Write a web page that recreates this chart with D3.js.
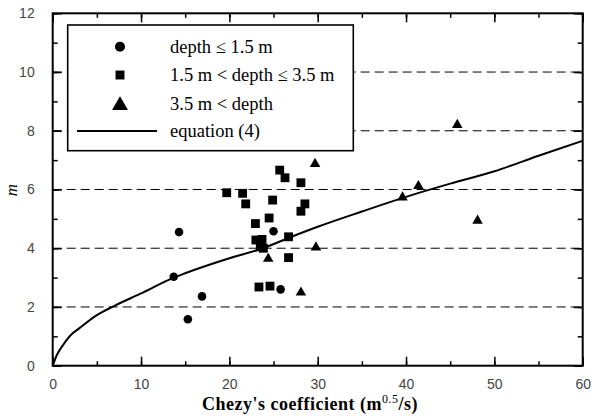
<!DOCTYPE html>
<html>
<head>
<meta charset="utf-8">
<script src="https://cdn.jsdelivr.net/npm/d3@7"></script>
<style>
  body { margin: 0; background: #fff; }
  svg { display: block; }
</style>
</head>
<body>
<div id="chart"></div>
<script>
// Dữ liệu: [Chezy C, m]
const shallowPoints = [[14.3, 4.55], [13.7, 3.03], [16.9, 2.36], [15.3, 1.58], [25.0, 4.58], [25.8, 2.6]];
const midPoints = [
  [25.7, 6.66], [26.3, 6.40], [28.1, 6.23], [19.7, 5.89], [21.5, 5.87], [21.85, 5.51],
  [24.9, 5.64], [28.55, 5.51], [28.1, 5.26], [24.5, 5.03], [22.95, 4.84], [26.7, 4.39],
  [23.0, 4.28], [23.7, 4.30], [23.5, 4.05], [23.85, 4.0], [26.7, 3.68], [23.35, 2.68], [24.6, 2.71]
];
const deepPoints = [[29.7, 6.87], [29.8, 4.03], [24.4, 3.64], [28.1, 2.49], [45.8, 8.2], [41.4, 6.12], [39.6, 5.73], [48.1, 4.94]];
// đường equation (4), các điểm
const equationC = [0, 0.5, 1, 2, 3, 5, 7, 10, 13.7, 15, 20, 23.8, 26.7, 30, 35, 40, 45, 50, 55, 60];
const equationM = [0, 0.38, 0.63, 1.03, 1.27, 1.72, 2.04, 2.46, 3.0, 3.15, 3.66, 4.0, 4.35, 4.73, 5.25, 5.75, 6.2, 6.62, 7.15, 7.66];
const xTicks = [0, 10, 20, 30, 40, 50, 60];
const yTicks = [0, 2, 4, 6, 8, 10, 12];
const gridLines = [2, 4, 6, 8, 10];
const legendLabels = ["depth \u2264 1.5 m", "1.5 m < depth \u2264 3.5 m", "3.5 m < depth", "equation (4)"];

const W = 591, H = 416;
const margin = {top: 13.3, right: 8.3, bottom: 50.3, left: 52.7};
const width = W - margin.left - margin.right;
const height = H - margin.top - margin.bottom;

const svg = d3.select("#chart").append("svg")
  .attr("width", W).attr("height", H);
const g = svg.append("g").attr("transform", `translate(${margin.left},${margin.top})`);

const x = d3.scaleLinear().domain([0, 60]).range([0, width]);
const y = d3.scaleLinear().domain([0, 12]).range([height, 0]);

// lưới ngang nét đứt
g.selectAll(".grid").data(gridLines).join("line")
  .attr("x1", 0).attr("x2", width)
  .attr("y1", d => y(d)).attr("y2", d => y(d))
  .attr("stroke", "#000").attr("stroke-width", 1)
  .attr("stroke-dasharray", "9,5");

// ticks hướng vào trong, 4 cạnh
const tickFont = "Liberation Sans, Arial, sans-serif";
function styleAxis(sel) {
  sel.select(".domain").remove();
  sel.selectAll(".tick line").attr("stroke", "#000").attr("stroke-width", 1.5);
  sel.selectAll(".tick text").style("font-family", tickFont).style("font-size", "14px").attr("fill", "#444");
}
const xMinor = d3.range(0, 61, 5);
const yMinor = d3.range(0, 13, 1);

g.append("g").attr("transform", `translate(0,${height})`)
  .call(d3.axisBottom(x).tickValues(xMinor).tickSize(-4.5).tickFormat(""))
  .call(styleAxis);
g.append("g").attr("transform", `translate(0,${height})`)
  .call(d3.axisBottom(x).tickValues(xTicks).tickSize(-9).tickPadding(13).tickFormat(d3.format("d")))
  .call(styleAxis);
g.append("g")
  .call(d3.axisTop(x).tickValues(xMinor).tickSize(-4.5).tickFormat(""))
  .call(styleAxis);
g.append("g")
  .call(d3.axisTop(x).tickValues(xTicks).tickSize(-9).tickFormat(""))
  .call(styleAxis);
g.append("g")
  .call(d3.axisLeft(y).tickValues(yMinor).tickSize(-5).tickFormat(""))
  .call(styleAxis);
g.append("g")
  .call(d3.axisLeft(y).tickValues(yTicks).tickSize(-9).tickPadding(18).tickFormat(d3.format("d")))
  .call(styleAxis);
g.append("g").attr("transform", `translate(${width},0)`)
  .call(d3.axisRight(y).tickValues(yMinor).tickSize(-5).tickFormat(""))
  .call(styleAxis);
g.append("g").attr("transform", `translate(${width},0)`)
  .call(d3.axisRight(y).tickValues(yTicks).tickSize(-9).tickFormat(""))
  .call(styleAxis);

// khung
g.append("rect").attr("width", width).attr("height", height)
  .attr("fill", "none").attr("stroke", "#000").attr("stroke-width", 2);

// đường equation (4)
const line = d3.line().x(d => x(d[0])).y(d => y(d[1])).curve(d3.curveMonotoneX);
g.append("path").datum(equationC.map((c, i) => [c, equationM[i]]))
  .attr("d", line).attr("fill", "none").attr("stroke", "#000").attr("stroke-width", 2);

// các điểm
const sym = {
  circle: d3.symbol().type(d3.symbolCircle).size(58),
  square: d3.symbol().type(d3.symbolSquare).size(78),
  triangle: d3.symbol().type(d3.symbolTriangle).size(48)
};
[[shallowPoints, "circle"], [midPoints, "square"], [deepPoints, "triangle"]].forEach(([pts, t]) => {
  g.selectAll(".pt-" + t).data(pts).join("path")
    .attr("class", "pt-" + t)
    .attr("transform", d => `translate(${x(d[0])},${y(d[1])})`)
    .attr("d", sym[t]).attr("fill", "#000");
});

// legend
const lg = svg.append("g");
lg.append("rect").attr("x", 67.7).attr("y", 25).attr("width", 285.6).attr("height", 125.7)
  .attr("fill", "#fff").attr("stroke", "#000").attr("stroke-width", 1.6);
const legendY = [46.7, 75, 104, 131];
const legendSym = [
  d3.symbol().type(d3.symbolCircle).size(80),
  d3.symbol().type(d3.symbolSquare).size(80),
  d3.symbol().type(d3.symbolTriangle).size(110)
];
legendSym.forEach((s, i) => {
  lg.append("path").attr("transform", `translate(120,${legendY[i] + (i === 2 ? 1.5 : 0)})`)
    .attr("d", s).attr("fill", "#000");
});
lg.append("line").attr("x1", 77).attr("x2", 157).attr("y1", legendY[3]).attr("y2", legendY[3])
  .attr("stroke", "#000").attr("stroke-width", 2);
lg.selectAll(".lg-text").data(legendLabels).join("text")
  .attr("x", 170).attr("y", (d, i) => legendY[i]).attr("dy", "0.35em")
  .style("font-family", "Liberation Serif, Times New Roman, serif").style("font-size", "18.5px")
  .text(d => d);

// tiêu đề trục
const xt = svg.append("text").attr("x", 310).attr("y", 410).attr("text-anchor", "middle")
  .style("font-family", "Liberation Serif, Times New Roman, serif").style("font-size", "18px")
  .style("font-weight", "bold").style("letter-spacing", "0.5px");
xt.append("tspan").text("Chezy's coefficient (m");
xt.append("tspan").attr("dy", "-7").style("font-size", "12px").style("font-weight", "normal").text("0.5");
xt.append("tspan").attr("dy", "7").text("/s)");

svg.append("text").attr("transform", "translate(17,190) rotate(-90)").attr("text-anchor", "middle")
  .style("font-family", "Liberation Serif, Times New Roman, serif").style("font-size", "17px")
  .style("font-style", "italic").text("m");
</script>
</body>
</html>
